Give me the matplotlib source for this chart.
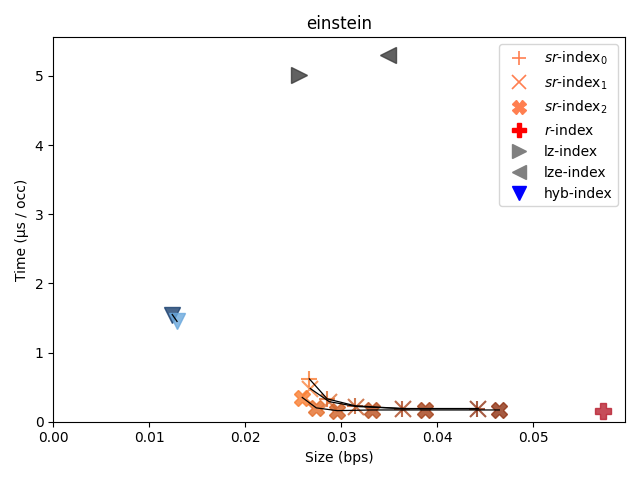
import matplotlib
matplotlib.use("Agg")
import matplotlib.pyplot as plt
import numpy as np
from matplotlib.colors import to_rgb

title = "einstein"
# sr-index variants (size in bps, time in us/occ)
sr0_size = [0.02667, 0.02854, 0.03146, 0.03635, 0.04417]
sr0_time = [0.62, 0.33, 0.23, 0.19, 0.19]
sr1_size = [0.02677, 0.02875, 0.03156, 0.03646, 0.04427]
sr1_time = [0.48, 0.29, 0.22, 0.19, 0.19]
sr2_size = [0.02594, 0.02740, 0.02958, 0.03323, 0.03875, 0.04646]
sr2_time = [0.35, 0.20, 0.16, 0.17, 0.17, 0.17]
r_size = [0.0573]
r_time = [0.16]
lz_size = [0.02563]
lz_time = [5.01]
lze_size = [0.0349]
lze_time = [5.30]
hyb_size = [0.0124, 0.0129]
hyb_time = [1.55, 1.45]

legend_labels = [r"$sr$-index$_0$", r"$sr$-index$_1$", r"$sr$-index$_2$",
                 r"$r$-index", "lz-index", "lze-index", "hyb-index"]


def grad(c0, c1, n):
    a = np.array(to_rgb(c0))
    b = np.array(to_rgb(c1))
    if n == 1:
        return [tuple(a)]
    return [tuple(a + (b - a) * i / (n - 1)) for i in range(n)]


fig, ax = plt.subplots(figsize=(6.4, 4.8), dpi=100)
ms = 12
alpha = 0.8


def series(xs, ys, marker, c0, c1, mew=1.5):
    cols = grad(c0, c1, len(xs))
    for x, y, c in zip(xs, ys, cols):
        ax.plot([x], [y], linestyle="none", marker=marker, markersize=ms,
                color=c, alpha=alpha, markeredgewidth=mew)
    if len(xs) > 1:
        ax.plot(xs, ys, color="black", linewidth=0.9, zorder=3)


series(sr0_size, sr0_time, "+", "#fa7d35", "#8f3112")
series(sr1_size, sr1_time, "x", "#fa8540", "#8f3112")
series(sr2_size, sr2_time, "X", "#f97d30", "#8f3112", mew=1)
series(r_size, r_time, "P", "#b82030", "#b82030", mew=1)
series(lz_size, lz_time, ">", "#3a3a3a", "#3a3a3a", mew=1)
series(lze_size, lze_time, "<", "#3a3a3a", "#3a3a3a", mew=1)
series(hyb_size, hyb_time, "v", "#1a4070", "#6aa8dc", mew=1)

# legend handles
handles = []
for m, c in zip(["+", "x", "X", "P", ">", "<", "v"],
                ["coral", "coral", "coral", "red", "gray", "gray", "blue"]):
    h, = ax.plot([], [], linestyle="none", marker=m, color=c, markersize=10,
                 markeredgewidth=1 if m not in "+x" else 1.2)
    handles.append(h)
ax.legend(handles, legend_labels, loc="upper right")

ax.set_xlim(left=0)
ax.set_ylim(bottom=0)
ax.set_title(title)
ax.set_xlabel("Size (bps)")
ax.set_ylabel("Time (µs / occ)")
fig.tight_layout()
fig.savefig("out.png", dpi=100)
